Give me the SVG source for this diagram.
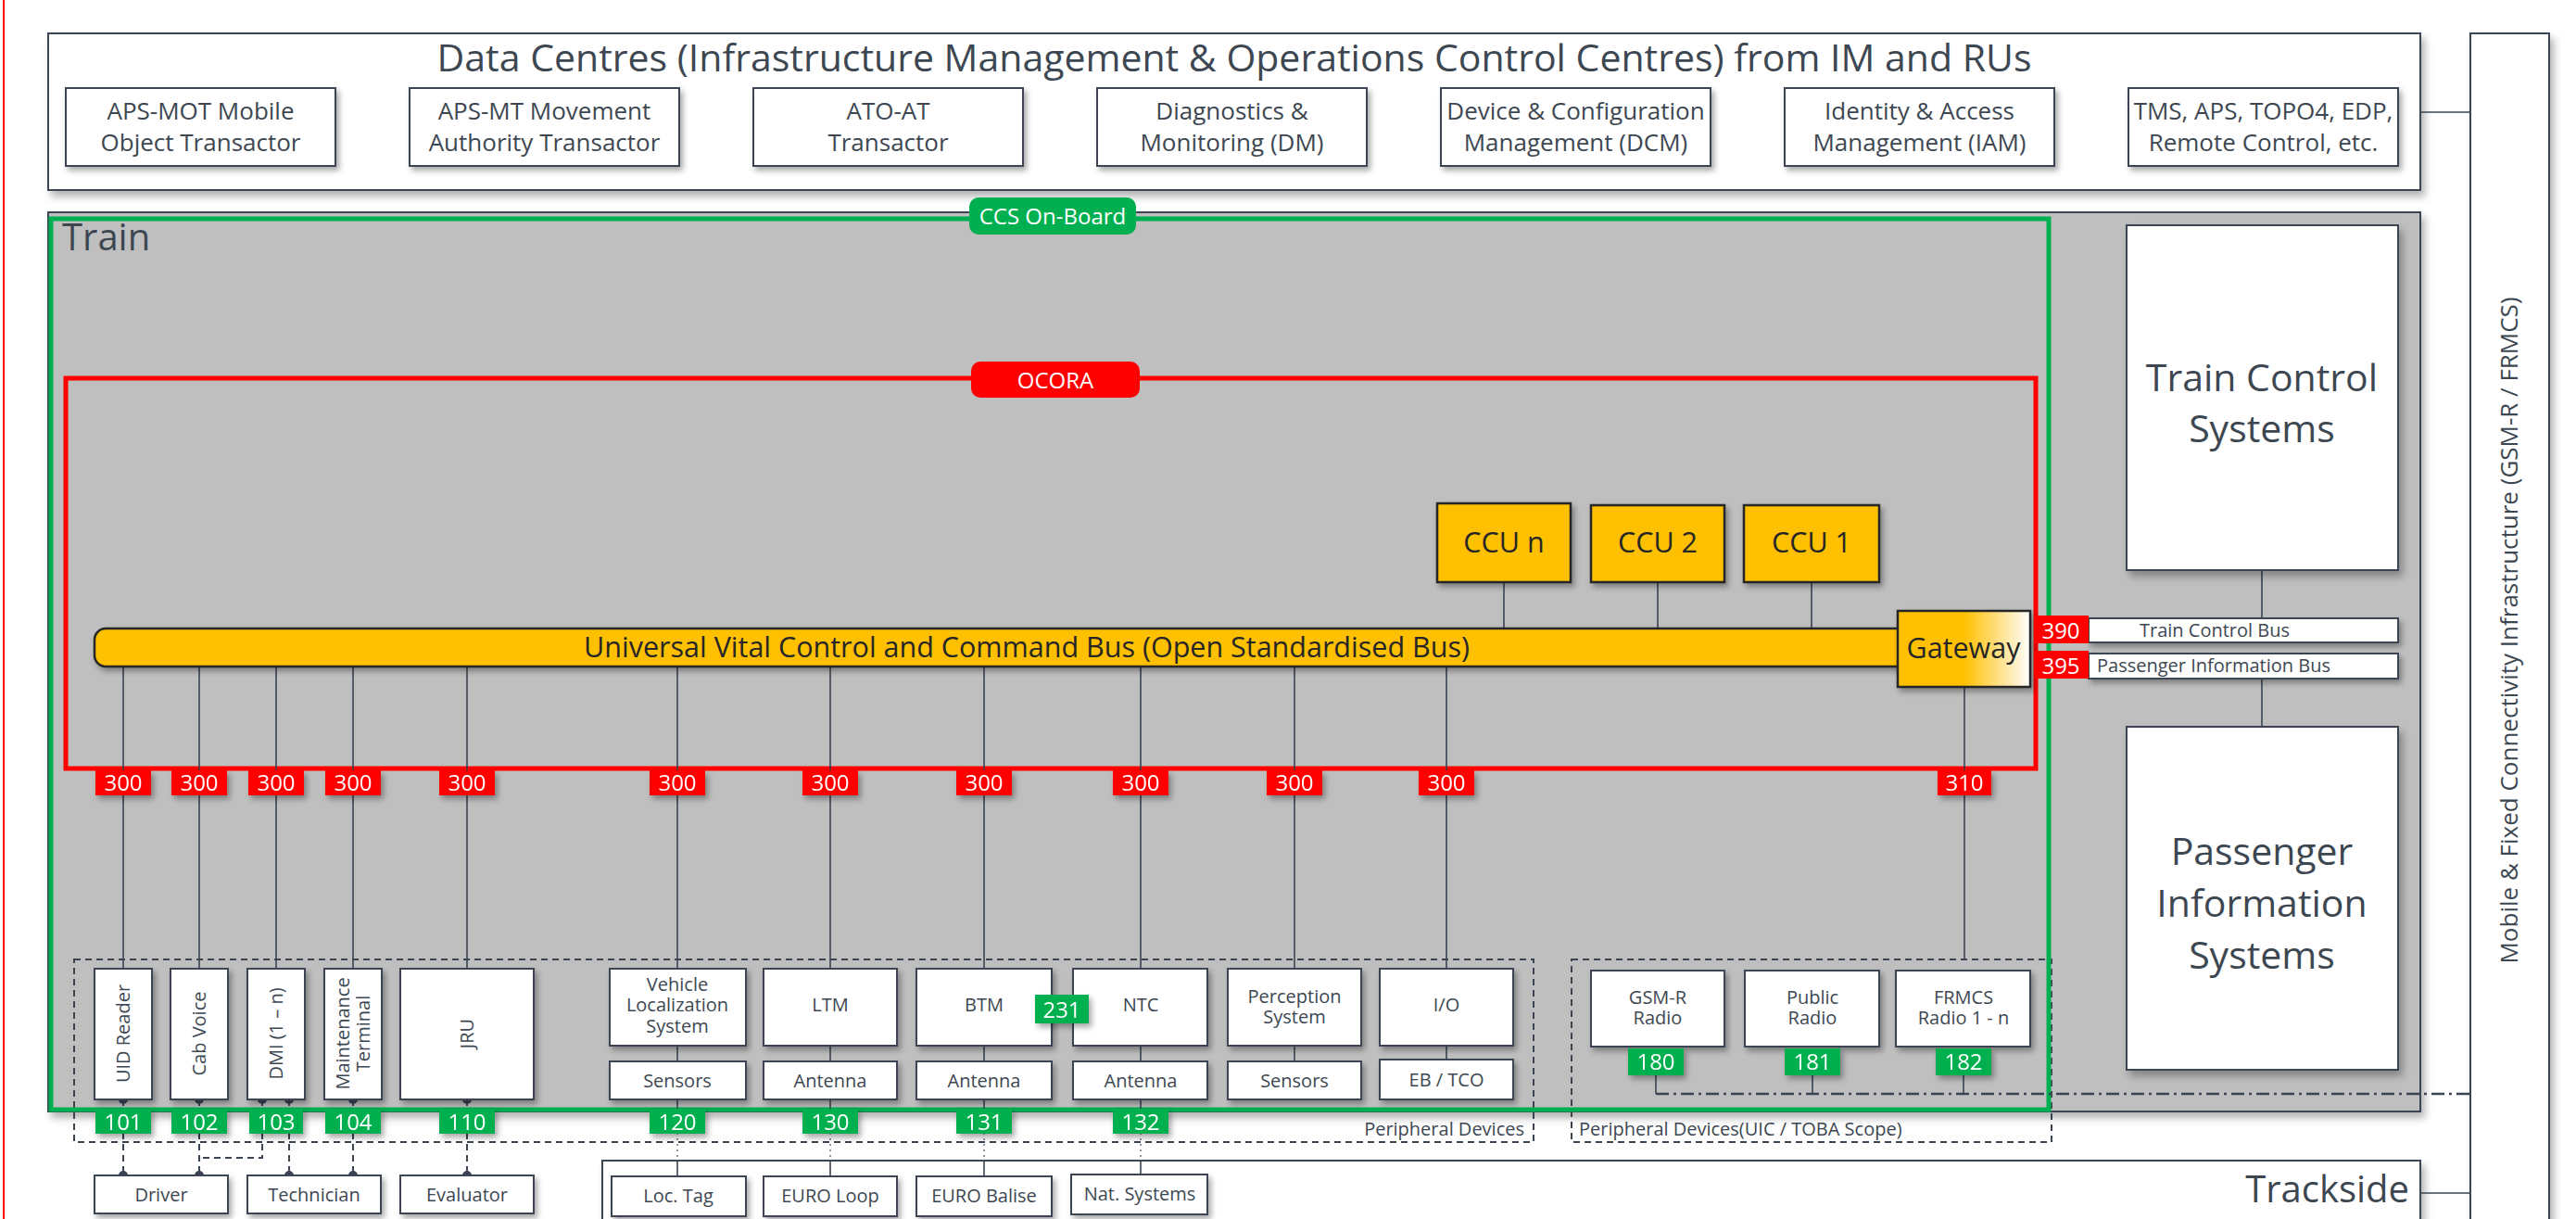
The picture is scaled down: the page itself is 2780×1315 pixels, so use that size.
<svg xmlns="http://www.w3.org/2000/svg" width="2780" height="1315" viewBox="0 0 2780 1315">
<defs>
<filter id="sh" x="-10%" y="-10%" width="130%" height="130%"><feDropShadow dx="4" dy="6" stdDeviation="4" flood-color="#000" flood-opacity="0.3"/></filter>
<filter id="shs" x="-30%" y="-30%" width="180%" height="180%"><feDropShadow dx="3" dy="4" stdDeviation="3" flood-color="#000" flood-opacity="0.35"/></filter>
<linearGradient id="gw" x1="0" y1="0" x2="1" y2="0"><stop offset="0.5" stop-color="#FFC000"/><stop offset="1" stop-color="#FFFFFF"/></linearGradient>
</defs>
<style>
.t{font-family:"Open Sans","Liberation Sans",sans-serif;fill:#3d4752}
.m{text-anchor:middle}
.box{fill:#fff;stroke:#3a4452;stroke-width:2}
.yb{fill:#FFC000;stroke:#262626;stroke-width:2.5}
.ln{stroke:#3a4452;stroke-width:1.6;fill:none}
.dash{stroke:#3a4452;stroke-width:2;fill:none;stroke-dasharray:7 5}
.dot{stroke:#6a7480;stroke-width:1.5;fill:none;stroke-dasharray:2 4}
.dd{stroke:#3a4452;stroke-width:2.5;fill:none;stroke-dasharray:14 5 3 5}
.rl{fill:#FF0000}
.gl{fill:#00B050}
.lt{font-family:"Open Sans","Liberation Sans",sans-serif;fill:#fff;font-size:24px;text-anchor:middle}
.s20{font-size:20px}
.s26{font-size:26px}
.s30{font-size:30.5px}
.s40{font-size:40px}
.dk{fill:#262626}
.pt{fill:#3a4452}
</style>

<line x1="4" y1="0" x2="4" y2="1315" stroke="#FF0000" stroke-width="2"/>

<g id="data-centres">
<rect x="52" y="36" width="2560" height="169" class="box" filter="url(#sh)"/>
<text x="1332" y="77" class="t m" font-size="41">Data Centres (Infrastructure Management &amp; Operations Control Centres) from IM and RUs</text>
</g>
<g id="aps-mot"><rect x="71" y="95" width="291" height="84" class="box" filter="url(#shs)"/><text x="216.5" y="129" class="t m s26">APS-MOT Mobile</text><text x="216.5" y="163" class="t m s26">Object Transactor</text></g>
<g id="aps-mt"><rect x="442" y="95" width="291" height="84" class="box" filter="url(#shs)"/><text x="587.5" y="129" class="t m s26">APS-MT Movement</text><text x="587.5" y="163" class="t m s26">Authority Transactor</text></g>
<g id="ato-at"><rect x="813" y="95" width="291" height="84" class="box" filter="url(#shs)"/><text x="958.5" y="129" class="t m s26">ATO-AT</text><text x="958.5" y="163" class="t m s26">Transactor</text></g>
<g id="dm"><rect x="1184" y="95" width="291" height="84" class="box" filter="url(#shs)"/><text x="1329.5" y="129" class="t m s26">Diagnostics &amp;</text><text x="1329.5" y="163" class="t m s26">Monitoring (DM)</text></g>
<g id="dcm"><rect x="1555" y="95" width="291" height="84" class="box" filter="url(#shs)"/><text x="1700.5" y="129" class="t m s26">Device &amp; Configuration</text><text x="1700.5" y="163" class="t m s26">Management (DCM)</text></g>
<g id="iam"><rect x="1926" y="95" width="291" height="84" class="box" filter="url(#shs)"/><text x="2071.5" y="129" class="t m s26">Identity &amp; Access</text><text x="2071.5" y="163" class="t m s26">Management (IAM)</text></g>
<g id="tms"><rect x="2297" y="95" width="291" height="84" class="box" filter="url(#shs)"/><text x="2442.5" y="129" class="t m s26">TMS, APS, TOPO4, EDP,</text><text x="2442.5" y="163" class="t m s26">Remote Control, etc.</text></g>

<g id="mobile-fixed">
<rect x="2666" y="36" width="85" height="1300" class="box" filter="url(#sh)"/>
<text transform="translate(2717 680) rotate(-90)" x="0" y="0" class="t m" font-size="26">Mobile &amp; Fixed Connectivity Infrastructure (GSM-R / FRMCS)</text>
</g>

<g id="trackside">
<rect x="650" y="1252" width="1962" height="90" class="box" filter="url(#sh)"/>
<text x="2600" y="1297" class="t s40" text-anchor="end">Trackside</text>
</g>

<g id="train">
<rect x="52" y="229" width="2560" height="970" fill="#BFBFBF" stroke="#3a4452" stroke-width="2" filter="url(#sh)"/>
<text x="67" y="270" class="t s40">Train</text>
</g>

<g id="peripheral-devices">
<rect x="80" y="1035" width="1575" height="197" class="dash"/>
<text x="1645" y="1225" class="t s20" text-anchor="end">Peripheral Devices</text>
</g>
<g id="peripheral-devices-uic">
<rect x="1696" y="1035" width="518" height="197" class="dash"/>
<text x="1704" y="1225" class="t s20">Peripheral Devices(UIC / TOBA Scope)</text>
</g>

<g id="ccs-onboard">
<rect x="55" y="236" width="2156" height="961" fill="none" stroke="#00B050" stroke-width="5"/>
</g>
<g id="ocora">
<rect x="71" y="408" width="2126" height="421" fill="none" stroke="#FF0000" stroke-width="5"/>
</g>

<g id="connectors">
<path class="ln" d="M1623 628V678M1789 628V678M1955 628V678"/>
<path class="ln" d="M133 719V1045M215 719V1045M298 719V1045M381 719V1045M504 719V1045M731 719V1045M896 719V1045M1062 719V1045M1231 719V1045M1397 719V1045M1561 719V1045"/>
<path class="ln" d="M2120 741V1035"/>
<path class="ln" d="M2441 615V667M2441 732V784"/>
<path class="ln" d="M731 1128V1145M896 1128V1145M1062 1128V1145M1231 1128V1145M1397 1128V1145M1561 1128V1143"/>
<path class="ln" d="M731 1186V1197M896 1186V1197M1062 1186V1197M1231 1186V1197"/>
<path class="dot" d="M731 1222V1252M896 1222V1252M1062 1222V1252M1231 1222V1252"/>
<path class="ln" d="M731 1252V1269M896 1252V1269M1062 1252V1269M1231 1252V1267"/>
<path class="dash" d="M133 1186V1268M215 1186V1268M283 1186V1249H215M312 1186V1268M381 1186V1268M504 1186V1268"/>
<path class="ln" d="M1787 1160V1180M1956 1160V1180M2119 1160V1180"/>
<path class="dd" d="M1787 1180H2666"/>
<path class="ln" d="M2612 121H2666M2612 1287H2666"/>
<g class="pt">
<circle cx="133" cy="1186" r="5"/><circle cx="215" cy="1186" r="5"/><circle cx="283" cy="1186" r="5"/><circle cx="312" cy="1186" r="5"/><circle cx="381" cy="1186" r="5"/><circle cx="504" cy="1186" r="5"/>
<circle cx="133" cy="1268" r="5"/><circle cx="215" cy="1268" r="5"/><circle cx="312" cy="1268" r="5"/><circle cx="381" cy="1268" r="5"/><circle cx="504" cy="1268" r="5"/>
</g>
</g>

<g id="label-ccs"><rect x="1046" y="213" width="180" height="40" rx="10" class="gl"/><text x="1136" y="242" class="lt" font-size="25">CCS On-Board</text></g>
<g id="label-ocora"><rect x="1048" y="390" width="182" height="39" rx="10" class="rl"/><text x="1139" y="419" class="lt" font-size="25">OCORA</text></g>

<g id="bus">
<rect x="102" y="678" width="1960" height="41" rx="12" class="yb" filter="url(#shs)"/>
<text x="1108" y="709" class="t m s30 dk">Universal Vital Control and Command Bus (Open Standardised Bus)</text>
</g>
<g id="ccu-n"><rect x="1551" y="543" width="144" height="85" class="yb" filter="url(#shs)"/><text x="1623" y="596" class="t m s30 dk">CCU n</text></g>
<g id="ccu-2"><rect x="1717" y="545" width="144" height="83" class="yb" filter="url(#shs)"/><text x="1789" y="596" class="t m s30 dk">CCU 2</text></g>
<g id="ccu-1"><rect x="1882" y="545" width="146" height="83" class="yb" filter="url(#shs)"/><text x="1955" y="596" class="t m s30 dk">CCU 1</text></g>
<g id="gateway"><rect x="2048" y="659" width="143" height="82" fill="url(#gw)" stroke="#262626" stroke-width="2.5" filter="url(#shs)"/><text x="2119" y="710" class="t m s30 dk">Gateway</text></g>

<g id="train-control-systems"><rect x="2295" y="243" width="293" height="372" class="box" filter="url(#sh)"/><text x="2441" y="422" class="t m" font-size="41">Train Control</text><text x="2441" y="477" class="t m" font-size="41">Systems</text></g>
<g id="passenger-information-systems"><rect x="2295" y="784" width="293" height="370" class="box" filter="url(#sh)"/><text x="2441" y="933" class="t m" font-size="41">Passenger</text><text x="2441" y="989" class="t m" font-size="41">Information</text><text x="2441" y="1045" class="t m" font-size="41">Systems</text></g>
<g id="train-control-bus"><rect x="2254" y="667" width="334" height="26" class="box" filter="url(#shs)"/><text x="2309" y="687" class="t" font-size="20">Train Control Bus</text><rect x="2195" y="664" width="59" height="30" class="rl"/><text x="2224" y="689" class="lt" font-size="25">390</text></g>
<g id="passenger-information-bus"><rect x="2254" y="705" width="334" height="27" class="box" filter="url(#shs)"/><text x="2263" y="725" class="t" font-size="20">Passenger Information Bus</text><rect x="2195" y="702" width="59" height="30" class="rl"/><text x="2224" y="727" class="lt" font-size="25">395</text></g>

<g id="labels-300" filter="url(#shs)">
<rect x="103" y="831" width="60" height="27" class="rl"/><text x="133" y="853" class="lt">300</text>
<rect x="185" y="831" width="60" height="27" class="rl"/><text x="215" y="853" class="lt">300</text>
<rect x="268" y="831" width="60" height="27" class="rl"/><text x="298" y="853" class="lt">300</text>
<rect x="351" y="831" width="60" height="27" class="rl"/><text x="381" y="853" class="lt">300</text>
<rect x="474" y="831" width="60" height="27" class="rl"/><text x="504" y="853" class="lt">300</text>
<rect x="701" y="831" width="60" height="27" class="rl"/><text x="731" y="853" class="lt">300</text>
<rect x="866" y="831" width="60" height="27" class="rl"/><text x="896" y="853" class="lt">300</text>
<rect x="1032" y="831" width="60" height="27" class="rl"/><text x="1062" y="853" class="lt">300</text>
<rect x="1201" y="831" width="60" height="27" class="rl"/><text x="1231" y="853" class="lt">300</text>
<rect x="1367" y="831" width="60" height="27" class="rl"/><text x="1397" y="853" class="lt">300</text>
<rect x="1531" y="831" width="60" height="27" class="rl"/><text x="1561" y="853" class="lt">300</text>
<rect x="2091" y="831" width="58" height="27" class="rl"/><text x="2120" y="853" class="lt">310</text>
</g>

<g id="uid-reader"><rect x="102" y="1045" width="62" height="141" class="box" filter="url(#shs)"/><text transform="translate(133 1115) rotate(-90)" x="0" y="7" class="t m s20">UID Reader</text></g>
<g id="cab-voice"><rect x="184" y="1045" width="62" height="141" class="box" filter="url(#shs)"/><text transform="translate(215 1115) rotate(-90)" x="0" y="7" class="t m s20">Cab Voice</text></g>
<g id="dmi"><rect x="267" y="1045" width="62" height="141" class="box" filter="url(#shs)"/><text transform="translate(298 1115) rotate(-90)" x="0" y="7" class="t m s20">DMI (1 – n)</text></g>
<g id="maintenance-terminal"><rect x="350" y="1045" width="62" height="141" class="box" filter="url(#shs)"/><text transform="translate(381 1115) rotate(-90)" x="0" y="-4" class="t m s20">Maintenance</text><text transform="translate(381 1115) rotate(-90)" x="0" y="18" class="t m s20">Terminal</text></g>
<g id="jru"><rect x="432" y="1045" width="144" height="141" class="box" filter="url(#shs)"/><text transform="translate(504 1115) rotate(-90)" x="0" y="7" class="t m s20">JRU</text></g>

<g id="vls"><rect x="658" y="1045" width="147" height="83" class="box" filter="url(#shs)"/><text x="731" y="1069" class="t m s20">Vehicle</text><text x="731" y="1091" class="t m s20">Localization</text><text x="731" y="1114" class="t m s20">System</text></g>
<g id="vls-sensors"><rect x="658" y="1145" width="147" height="41" class="box" filter="url(#shs)"/><text x="731" y="1173" class="t m s20">Sensors</text></g>
<g id="ltm"><rect x="824" y="1045" width="144" height="83" class="box" filter="url(#shs)"/><text x="896" y="1091" class="t m s20">LTM</text></g>
<g id="ltm-antenna"><rect x="824" y="1145" width="144" height="41" class="box" filter="url(#shs)"/><text x="896" y="1173" class="t m s20">Antenna</text></g>
<g id="btm"><rect x="989" y="1045" width="146" height="83" class="box" filter="url(#shs)"/><text x="1062" y="1091" class="t m s20">BTM</text></g>
<g id="btm-antenna"><rect x="989" y="1145" width="146" height="41" class="box" filter="url(#shs)"/><text x="1062" y="1173" class="t m s20">Antenna</text></g>
<g id="ntc"><rect x="1158" y="1045" width="145" height="83" class="box" filter="url(#shs)"/><text x="1231" y="1091" class="t m s20">NTC</text></g>
<g id="ntc-antenna"><rect x="1158" y="1145" width="145" height="41" class="box" filter="url(#shs)"/><text x="1231" y="1173" class="t m s20">Antenna</text></g>
<g id="perception"><rect x="1325" y="1045" width="144" height="83" class="box" filter="url(#shs)"/><text x="1397" y="1082" class="t m s20">Perception</text><text x="1397" y="1104" class="t m s20">System</text></g>
<g id="perception-sensors"><rect x="1325" y="1145" width="144" height="41" class="box" filter="url(#shs)"/><text x="1397" y="1173" class="t m s20">Sensors</text></g>
<g id="io"><rect x="1489" y="1045" width="144" height="83" class="box" filter="url(#shs)"/><text x="1561" y="1091" class="t m s20">I/O</text></g>
<g id="eb-tco"><rect x="1489" y="1143" width="144" height="43" class="box" filter="url(#shs)"/><text x="1561" y="1172" class="t m s20">EB / TCO</text></g>
<g id="label-231" filter="url(#shs)"><rect x="1117" y="1073" width="58" height="31" class="gl"/><text x="1146" y="1098" class="lt" font-size="26">231</text></g>

<g id="gsm-r"><rect x="1717" y="1047" width="144" height="82" class="box" filter="url(#shs)"/><text x="1789" y="1083" class="t m s20">GSM-R</text><text x="1789" y="1105" class="t m s20">Radio</text></g>
<g id="public-radio"><rect x="1883" y="1047" width="145" height="82" class="box" filter="url(#shs)"/><text x="1956" y="1083" class="t m s20">Public</text><text x="1956" y="1105" class="t m s20">Radio</text></g>
<g id="frmcs"><rect x="2046" y="1047" width="145" height="82" class="box" filter="url(#shs)"/><text x="2119" y="1083" class="t m s20">FRMCS</text><text x="2119" y="1105" class="t m s20">Radio 1 - n</text></g>

<g id="labels-green" filter="url(#shs)">
<rect x="1757" y="1131" width="60" height="29" class="gl"/><text x="1787" y="1154" class="lt">180</text>
<rect x="1926" y="1131" width="60" height="29" class="gl"/><text x="1956" y="1154" class="lt">181</text>
<rect x="2089" y="1131" width="60" height="29" class="gl"/><text x="2119" y="1154" class="lt">182</text>
<rect x="103" y="1196" width="60" height="27" class="gl"/><text x="133" y="1219" class="lt">101</text>
<rect x="185" y="1196" width="60" height="27" class="gl"/><text x="215" y="1219" class="lt">102</text>
<rect x="269" y="1196" width="58" height="27" class="gl"/><text x="298" y="1219" class="lt">103</text>
<rect x="351" y="1196" width="60" height="27" class="gl"/><text x="381" y="1219" class="lt">104</text>
<rect x="474" y="1196" width="60" height="27" class="gl"/><text x="504" y="1219" class="lt">110</text>
<rect x="701" y="1196" width="60" height="27" class="gl"/><text x="731" y="1219" class="lt">120</text>
<rect x="866" y="1196" width="60" height="27" class="gl"/><text x="896" y="1219" class="lt">130</text>
<rect x="1032" y="1196" width="60" height="27" class="gl"/><text x="1062" y="1219" class="lt">131</text>
<rect x="1201" y="1196" width="60" height="27" class="gl"/><text x="1231" y="1219" class="lt">132</text>
</g>

<g id="driver"><rect x="102" y="1268" width="144" height="41" class="box" filter="url(#shs)"/><text x="174" y="1296" class="t m s20">Driver</text></g>
<g id="technician"><rect x="267" y="1268" width="144" height="41" class="box" filter="url(#shs)"/><text x="339" y="1296" class="t m s20">Technician</text></g>
<g id="evaluator"><rect x="432" y="1268" width="144" height="41" class="box" filter="url(#shs)"/><text x="504" y="1296" class="t m s20">Evaluator</text></g>
<g id="loc-tag"><rect x="660" y="1269" width="145" height="43" class="box" filter="url(#shs)"/><text x="732" y="1297" class="t m s20">Loc. Tag</text></g>
<g id="euro-loop"><rect x="824" y="1269" width="144" height="43" class="box" filter="url(#shs)"/><text x="896" y="1297" class="t m s20">EURO Loop</text></g>
<g id="euro-balise"><rect x="989" y="1269" width="146" height="43" class="box" filter="url(#shs)"/><text x="1062" y="1297" class="t m s20">EURO Balise</text></g>
<g id="nat-systems"><rect x="1156" y="1267" width="147" height="43" class="box" filter="url(#shs)"/><text x="1230" y="1295" class="t m s20">Nat. Systems</text></g>
</svg>
